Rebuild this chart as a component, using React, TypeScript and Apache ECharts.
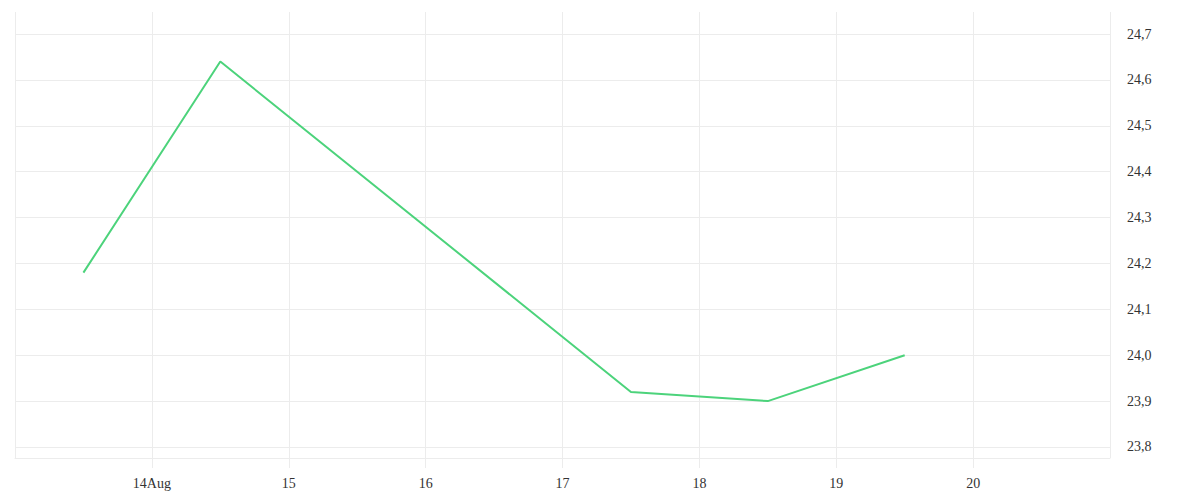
import React, { useEffect, useRef } from "react";
import * as echarts from "echarts";

const dates = ["2024-08-13T12:00", "2024-08-14T12:00", "2024-08-17T12:00", "2024-08-18T12:00", "2024-08-19T12:00"];
const values = [24.18, 24.64, 23.92, 23.9, 24.0];
const xRange = ["2024-08-13T00:00", "2024-08-21T00:00"];
const yRange = [23.776, 24.748];
const monthName = "Aug";

const DAY = 86400000;
const toTs = (s: string) => {
  const [d, t] = s.split("T");
  const [y, m, dd] = d.split("-").map(Number);
  const [hh, mm] = t.split(":").map(Number);
  return Date.UTC(y, m - 1, dd, hh, mm);
};

export default function App() {
  const ref = useRef<HTMLDivElement>(null);
  useEffect(() => {
    if (!ref.current) return;
    const chart = echarts.init(ref.current, undefined, { renderer: "svg" });
    const gridColor = "#ececec";
    const font = "'Liberation Serif', serif";
    chart.setOption({
      animation: false,
      backgroundColor: "#ffffff",
      grid: { left: 15, right: 90, top: 12, bottom: 42, containLabel: false },
      xAxis: {
        type: "value",
        min: toTs(xRange[0]),
        max: toTs(xRange[1]),
        interval: DAY,
        axisLine: { show: true, lineStyle: { color: gridColor, width: 1 } },
        axisTick: { show: true, length: 10, lineStyle: { color: gridColor } },
        splitLine: { show: true, lineStyle: { color: gridColor, width: 1 } },
        axisLabel: {
          showMinLabel: false,
          showMaxLabel: false,
          margin: 18,
          fontFamily: font,
          fontSize: 14,
          color: "#333",
          formatter: (v: number) => {
            const d = new Date(v).getUTCDate();
            return d === 14 ? `${d}${monthName}` : String(d);
          },
        },
      },
      yAxis: {
        type: "value",
        position: "right",
        min: yRange[0],
        max: yRange[1],
        splitNumber: 10,
        axisLine: { show: false },
        axisTick: { show: false },
        splitLine: { show: true, showMaxLine: false, lineStyle: { color: gridColor, width: 1 } },
        axisLabel: {
          showMinLabel: false,
          showMaxLabel: false,
          margin: 17,
          padding: [4, 0, 0, 0],
          fontFamily: font,
          fontSize: 14,
          color: "#333",
          formatter: (v: number) => v.toFixed(1).replace(".", ","),
        },
      },
      series: [
        {
          type: "line",
          data: dates.map((d, i) => [toTs(d), values[i]]),
          showSymbol: false,
          lineStyle: { color: "#4cd37b", width: 2 },
          itemStyle: { color: "#4cd37b" },
        },
      ],
    });
    return () => chart.dispose();
  }, []);
  return <div ref={ref} style={{ position: "fixed", left: 0, top: 0, width: 1200, height: 500 }} />;
}
